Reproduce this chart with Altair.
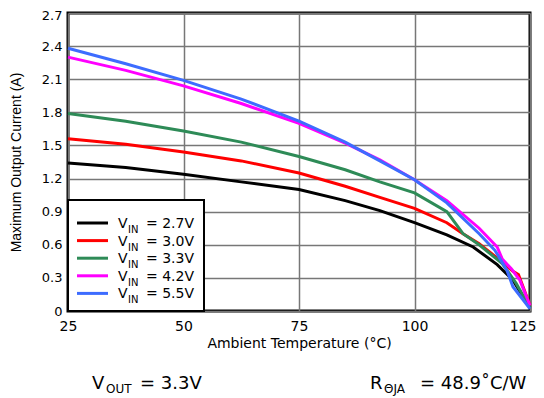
import altair as alt
import pandas as pd

FONT = "DejaVu Sans"
FONT2 = "Liberation Sans"

series_names = ["2.7V", "3.0V", "3.3V", "4.2V", "5.5V"]
series_colors = ["#000000", "#ff0000", "#2e8b57", "#ff00ff", "#3d6cff"]

temps_27 = [25, 37.5, 50, 62.5, 75, 85, 92.5, 100, 107, 112.7, 117.9, 121.3, 125]
vals_27 = [1.34, 1.30, 1.24, 1.17, 1.10, 1.00, 0.91, 0.80, 0.69, 0.58, 0.42, 0.28, 0.03]

temps_30 = [25, 37.5, 50, 62.5, 75, 85, 92.5, 100, 107, 110.5, 114, 118.5, 121.3, 122.5, 123.5, 125]
vals_30 = [1.56, 1.51, 1.44, 1.36, 1.25, 1.13, 1.03, 0.93, 0.80, 0.70, 0.61, 0.46, 0.36, 0.33, 0.22, 0.05]

temps_33 = [25, 37.5, 50, 62.5, 75, 85, 92.5, 100, 107, 110.5, 114, 119, 122, 125]
vals_33 = [1.79, 1.72, 1.63, 1.53, 1.40, 1.28, 1.17, 1.07, 0.90, 0.70, 0.60, 0.43, 0.25, 0.03]

temps_42 = [25, 37.5, 50, 62.5, 75, 85, 92.5, 100, 107, 114, 117.9, 119, 121, 122.8, 125]
vals_42 = [2.30, 2.18, 2.04, 1.88, 1.70, 1.52, 1.37, 1.19, 1.00, 0.75, 0.58, 0.47, 0.38, 0.28, 0.05]

temps_55 = [25, 37.5, 50, 62.5, 75, 85, 92.5, 100, 107, 114, 117.4, 120, 121.3, 125]
vals_55 = [2.38, 2.24, 2.09, 1.92, 1.72, 1.53, 1.36, 1.19, 0.98, 0.70, 0.55, 0.37, 0.22, 0.02]

x_ticks = [25, 50, 75, 100, 125]
y_ticks = [0, 0.3, 0.6, 0.9, 1.2, 1.5, 1.8, 2.1, 2.4, 2.7]

all_temps = [temps_27, temps_30, temps_33, temps_42, temps_55]
all_vals = [vals_27, vals_30, vals_33, vals_42, vals_55]

rows = []
for name, ts, vs in zip(series_names, all_temps, all_vals):
    for i, (t, v) in enumerate(zip(ts, vs)):
        rows.append({"series": name, "T": t, "I": v, "order": i})
df = pd.DataFrame(rows)

color_scale = alt.Scale(domain=series_names, range=series_colors)

lines = alt.Chart(df).mark_line(strokeWidth=3).encode(
    x=alt.X("T:Q", scale=alt.Scale(domain=[25, 125], nice=False),
            axis=alt.Axis(values=x_ticks, title="Ambient Temperature (°C)",
                          grid=True, ticks=False, domain=False, labelPadding=8,
                          labelFlush=False, titlePadding=3,
                          labelAlign={"condition": {"test": "datum.value == 125", "value": "right"},
                                      "value": "center"},
                          labelOffset={"condition": {"test": "datum.value == 125", "value": 6},
                                       "value": 0},
                          labelFontSize=14, titleFontSize=14, titleFont=FONT)),
    y=alt.Y("I:Q", scale=alt.Scale(domain=[0, 2.7], nice=False),
            axis=alt.Axis(values=y_ticks, format=".1~f", title="Maximum Output Current (A)",
                          grid=True, ticks=False, domain=False, labelPadding=6,
                          labelFlush=False, titlePadding=18,
                          labelOffset={"condition": {"test": "datum.value > 2.6", "value": 2},
                                       "value": 0},
                          labelFontSize=13, titleFontSize=14, titleFont=FONT2)),
    color=alt.Color("series:N", scale=color_scale, legend=None),
    order="order:Q",
)

# Legend (drawn by hand to allow subscripts)
leg_df = pd.DataFrame({"series": series_names, "i": list(range(len(series_names)))})
leg_df["rest"] = ["= " + s for s in series_names]

leg_box = alt.Chart(pd.DataFrame({"a": [0]})).mark_rect(
    fill="white", stroke="black", strokeWidth=2
).encode(x=alt.value(0), x2=alt.value(136), y=alt.value(187), y2=alt.value(298))

leg_base = alt.Chart(leg_df).transform_calculate(
    py="210 + datum.i * 17.6", pys="215 + datum.i * 17.6", pyb="220 + datum.i * 17.6"
)
leg_lines = leg_base.mark_rule(strokeWidth=3).encode(
    x=alt.value(9), x2=alt.value(40), y=alt.Y("py:Q", scale=None),
    color=alt.Color("series:N", scale=color_scale, legend=None),
)
leg_v = leg_base.mark_text(align="left", baseline="alphabetic", font=FONT, fontSize=14).encode(
    x=alt.value(50), y=alt.Y("pys:Q", scale=None), text=alt.value("V"))
leg_in = leg_base.mark_text(align="left", baseline="alphabetic", font=FONT, fontSize=10).encode(
    x=alt.value(60), y=alt.Y("pyb:Q", scale=None), text=alt.value("IN"))
leg_rest = leg_base.mark_text(align="left", baseline="alphabetic", font=FONT, fontSize=14).encode(
    x=alt.value(78), y=alt.Y("pys:Q", scale=None), text="rest:N")

# Bottom notes
def note(txt, x, y, size):
    return alt.Chart(pd.DataFrame({"t": [txt]})).mark_text(
        align="left", baseline="alphabetic", font=FONT, fontSize=size, color="black"
    ).encode(x=alt.value(x), y=alt.value(y), text="t:N")

notes = [
    note("V", 24, 376, 18), note("OUT", 38, 380, 12), note("= 3.3V", 72, 376, 18),
    note("R", 302, 376, 18), note("ΘJA", 316, 380, 12), note("= 48.9˚C/W", 352, 376, 18),
]

chart = alt.layer(lines, leg_box, leg_lines, leg_v, leg_in, leg_rest, *notes).properties(
    width=462, height=298,
    padding={"left": 60, "top": 5, "right": 6, "bottom": 87},
    autosize=alt.AutoSizeParams(type="none"),
    background="white",
).configure_view(stroke="black", strokeWidth=3).configure_axis(
    labelFont=FONT, titleFont=FONT,
    titleFontWeight="normal", labelColor="black", titleColor="black",
    gridColor="#777777", gridWidth=1.5, gridOpacity=1,
)

chart.save("out.html", embed_options={"renderer": "svg", "actions": False})
